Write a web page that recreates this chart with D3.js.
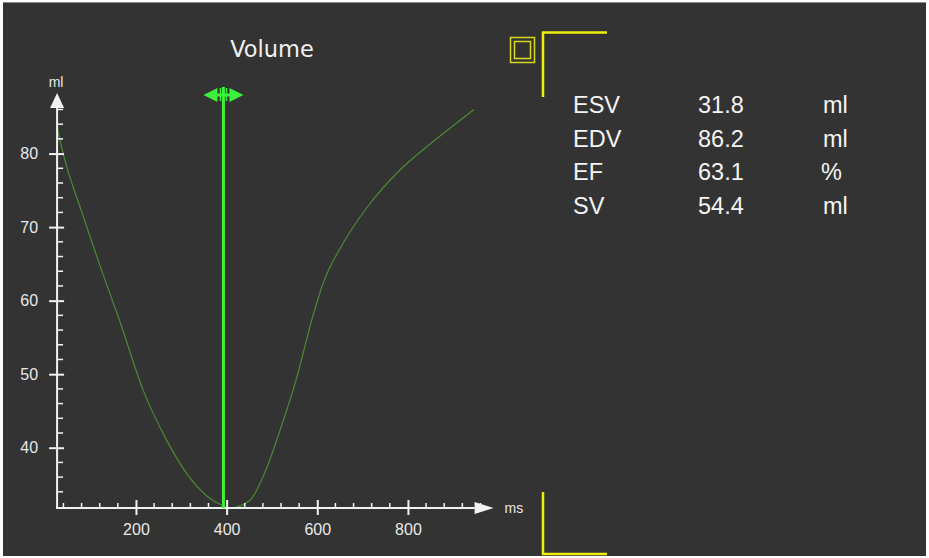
<!DOCTYPE html>
<html><head><meta charset="utf-8">
<script src="https://cdn.jsdelivr.net/npm/d3@7/dist/d3.min.js"></script>
<style>html,body{margin:0;padding:0;background:#fff;}svg{display:block;}</style>
</head><body>
<script>
// ---- data ----
const timeMs = [26, 39, 83, 121, 165, 216, 268, 313, 357, 392, 407, 452, 480, 518, 555, 588, 613, 657, 710, 783, 855, 946];
const volumeMl = [83.6, 80.1, 71.6, 64.7, 57.1, 47.8, 41.0, 36.4, 33.4, 32.1, 31.8, 32.9, 36.0, 42.4, 49.6, 57.4, 62.4, 67.8, 72.7, 77.8, 81.6, 86.0];
const xTickLabels = [200, 400, 600, 800];
const yTickLabels = [40, 50, 60, 70, 80];
const cursorMs = 393;
const statNames = ["ESV", "EDV", "EF", "SV"];
const statValues = ["31.8", "86.2", "63.1", "54.4"];
const statUnits = ["ml", "ml", "%", "ml"];
const yMin = 31.8, yMax = 86.2;

const W = 929, H = 558;
const svg = d3.select("body").append("svg").attr("width", W).attr("height", H);
svg.append("rect").attr("x", 3).attr("y", 2).attr("width", 923).attr("height", 554).attr("fill", "#333333");
svg.append("line").attr("x1", 3).attr("x2", 926).attr("y1", 2.5).attr("y2", 2.5).attr("stroke", "#8a8a8a").attr("stroke-width", 1);

const x = d3.scaleLinear().domain([0, 1000]).range([45.3, 498.6]);
const y = d3.scaleLinear().domain([yMin, yMax]).range([508, 108]);
const axisColor = "#f2f2f2";
const x0 = x(26), yBase = y(yMin);

// Title
svg.append("text").attr("x", 272).attr("y", 57).attr("text-anchor", "middle")
  .attr("font-family", "DejaVu Sans, sans-serif").attr("font-size", 22.5).attr("fill", "#f0f0f0").text("Volume");

// curve
const line = d3.line().x((d, i) => x(timeMs[i])).y((d) => y(d)).curve(d3.curveMonotoneX);
svg.append("path").attr("d", line(volumeMl)).attr("fill", "none").attr("stroke", "#4b8a33").attr("stroke-width", 1.2);

// Y axis
const yAxis = d3.axisLeft(y).tickValues(yTickLabels).tickSizeInner(8).tickSizeOuter(0).tickPadding(11);
const gy = svg.append("g").attr("transform", `translate(${x0},0)`).call(yAxis);
gy.select(".domain").remove();
gy.selectAll(".tick line").attr("x1", 7).attr("x2", -8).attr("stroke", axisColor).attr("stroke-width", 2);
gy.selectAll(".tick text").attr("font-family", "Liberation Sans, Arial, sans-serif").attr("font-size", 16).attr("fill", "#e8e8e8");
const yMinor = d3.range(34, 87, 2).filter(v => v % 10 !== 0);
svg.append("g").selectAll("line").data(yMinor).join("line")
  .attr("x1", x0).attr("x2", x0 + 6).attr("y1", d => y(d)).attr("y2", d => y(d))
  .attr("stroke", axisColor).attr("stroke-width", 1.5);
svg.append("line").attr("x1", x0).attr("x2", x0).attr("y1", yBase + 1).attr("y2", y(yMax)).attr("stroke", axisColor).attr("stroke-width", 2);
svg.append("path").attr("d", `M${x0 - 7},${y(yMax)}L${x0 + 7},${y(yMax)}L${x0},${y(yMax) - 15}Z`).attr("fill", axisColor);
svg.append("text").attr("x", x0 - 1).attr("y", 87).attr("text-anchor", "middle")
  .attr("font-family", "Liberation Sans, Arial, sans-serif").attr("font-size", 14).attr("fill", "#e8e8e8").text("ml");

// X axis
const xAxis = d3.axisBottom(x).tickValues(xTickLabels).tickSizeInner(7).tickSizeOuter(0).tickPadding(9);
const gx = svg.append("g").attr("transform", `translate(0,${yBase})`).call(xAxis);
gx.select(".domain").remove();
gx.selectAll(".tick line").attr("y1", -8).attr("y2", 7).attr("stroke", axisColor).attr("stroke-width", 2);
gx.selectAll(".tick text").attr("font-family", "Liberation Sans, Arial, sans-serif").attr("font-size", 16).attr("fill", "#e8e8e8");
const xMinor = d3.range(40, 961, 40).filter(v => v % 200 !== 0);
svg.append("g").selectAll("line").data(xMinor).join("line")
  .attr("x1", d => x(d)).attr("x2", d => x(d)).attr("y1", yBase).attr("y2", yBase - 5)
  .attr("stroke", axisColor).attr("stroke-width", 1.5);
const xEnd = x(947);
svg.append("line").attr("x1", x0 - 1).attr("x2", xEnd).attr("y1", yBase).attr("y2", yBase).attr("stroke", axisColor).attr("stroke-width", 2);
svg.append("path").attr("d", `M${xEnd},${yBase - 6}L${xEnd},${yBase + 6}L${xEnd + 19},${yBase}Z`).attr("fill", axisColor);
svg.append("text").attr("x", xEnd + 30).attr("y", yBase + 5)
  .attr("font-family", "Liberation Sans, Arial, sans-serif").attr("font-size", 14).attr("fill", "#e8e8e8").text("ms");

// cursor
const cx = x(cursorMs);
const cg = "#3cf03c";
svg.append("line").attr("x1", cx).attr("x2", cx).attr("y1", 87).attr("y2", yBase).attr("stroke", cg).attr("stroke-width", 3);
const ay = 95;
svg.append("path").attr("d", `M${cx - 20},${ay}L${cx - 6},${ay - 7}L${cx - 6},${ay + 7}Z M${cx + 20},${ay}L${cx + 6},${ay - 7}L${cx + 6},${ay + 7}Z`).attr("fill", cg);
svg.append("rect").attr("x", cx - 7).attr("y", ay - 1.5).attr("width", 14).attr("height", 3).attr("fill", cg);
svg.append("line").attr("x1", cx - 3).attr("x2", cx - 3).attr("y1", ay - 7).attr("y2", ay + 6).attr("stroke", cg).attr("stroke-width", 1.5);
svg.append("line").attr("x1", cx + 3).attr("x2", cx + 3).attr("y1", ay - 7).attr("y2", ay + 6).attr("stroke", cg).attr("stroke-width", 1.5);

// yellow markers
const yel = "#eeee10";
svg.append("rect").attr("x", 510.5).attr("y", 37.5).attr("width", 24).attr("height", 25).attr("fill", "none").attr("stroke", "#d8d820").attr("stroke-width", 1.5);
svg.append("rect").attr("x", 514.5).attr("y", 41.5).attr("width", 16).attr("height", 17).attr("fill", "none").attr("stroke", "#d8d820").attr("stroke-width", 1.5);
svg.append("path").attr("d", "M543,97L543,32.5L607,32.5").attr("fill", "none").attr("stroke", yel).attr("stroke-width", 2.5);
svg.append("path").attr("d", "M543,492L543,554L607,554").attr("fill", "none").attr("stroke", yel).attr("stroke-width", 2.5);

// stats table
const rowY = d3.scaleLinear().domain([0, 3]).range([113, 214]);
const tf = "Liberation Sans, Arial, sans-serif";
const rows = svg.append("g").selectAll("g").data(statNames).join("g");
rows.append("text").attr("x", 573).attr("y", (d, i) => rowY(i)).text(d => d);
rows.append("text").attr("x", 698).attr("y", (d, i) => rowY(i)).text((d, i) => statValues[i]);
rows.append("text").attr("x", (d, i) => statUnits[i] === "%" ? 821 : 823).attr("y", (d, i) => rowY(i)).text((d, i) => statUnits[i]);
rows.selectAll("text").attr("font-family", tf).attr("font-size", 23.5).attr("fill", "#f4f4f4");
</script>
</body></html>
